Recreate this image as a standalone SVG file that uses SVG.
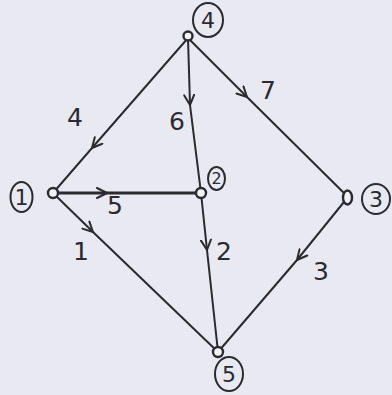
<svg xmlns="http://www.w3.org/2000/svg" width="392" height="395" viewBox="0 0 392 395">
<defs>
<marker id="chev" viewBox="0 0 12 12" refX="11" refY="6" markerWidth="12" markerHeight="12" markerUnits="userSpaceOnUse" orient="auto">
<path d="M1,1 L11,6 L1,11" fill="none" stroke="#2a2a30" stroke-width="2" stroke-linejoin="round" stroke-linecap="round"/>
</marker>
<style>
.edge{fill:none;stroke:#2a2a30;stroke-width:2;stroke-linecap:round;marker-mid:url(#chev)}
.dot{fill:#f2f2f6;stroke:#2a2a30;stroke-width:2.4}
.ring{fill:none;stroke:#2a2a30;stroke-width:2}
.lbl{font-family:"DejaVu Sans",sans-serif;font-size:22px;fill:#2a2a30;text-anchor:middle;dominant-baseline:central}
.w{font-family:"DejaVu Sans",sans-serif;font-size:25px;fill:#2a2a30;text-anchor:middle;dominant-baseline:central}
</style>
</defs>
<rect width="392" height="395" fill="#e9e9f1"/>
<g id="connectors">
<path class="edge" d="M188,38 L92,148 L53,193"/>
<path class="edge" d="M188,38 L190,105 L201,193"/>
<path class="edge" d="M188,38 L247,97 L348,197"/>
<path class="edge" style="stroke-width:3.2" d="M53,193 L107,193 L201,193"/>
<path class="edge" d="M53,193 L93,232 L218,352"/>
<path class="edge" d="M201,193 L207,250 L218,352"/>
<path class="edge" d="M348,197 L297,260 L218,352"/>
<text class="w" x="75" y="117">4</text>
<text class="w" x="177" y="121">6</text>
<text class="w" x="268" y="90">7</text>
<text class="w" x="115" y="205">5</text>
<text class="w" x="81" y="251">1</text>
<text class="w" x="224" y="251">2</text>
<text class="w" x="321" y="271">3</text>
</g>
<g id="node1">
<circle class="dot" cx="53" cy="193" r="5"/>
<ellipse class="ring" cx="21.5" cy="197" rx="11" ry="15"/>
<text class="lbl" x="21.5" y="197">1</text>
</g>
<g id="node2">
<circle class="dot" cx="201" cy="193" r="5"/>
<ellipse class="ring" cx="216.5" cy="178.5" rx="8.5" ry="11.5"/>
<text class="lbl" x="216.5" y="178.5" style="font-size:16px">2</text>
</g>
<g id="node3">
<ellipse class="dot" cx="347.5" cy="197.5" rx="4.5" ry="7"/>
<ellipse class="ring" cx="376" cy="199" rx="14" ry="15"/>
<text class="lbl" x="376" y="199">3</text>
</g>
<g id="node4">
<circle class="dot" cx="188" cy="36" r="4.5"/>
<ellipse class="ring" cx="208" cy="20" rx="15" ry="17"/>
<text class="lbl" x="208" y="20">4</text>
</g>
<g id="node5">
<circle class="dot" cx="218" cy="352" r="5"/>
<ellipse class="ring" cx="229" cy="374" rx="14" ry="17"/>
<text class="lbl" x="229" y="374">5</text>
</g>
</svg>
